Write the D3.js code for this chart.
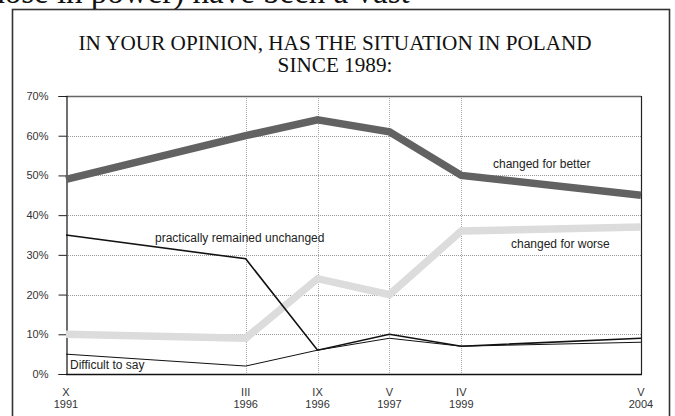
<!DOCTYPE html>
<html>
<head>
<meta charset="utf-8">
<script src="https://cdn.jsdelivr.net/npm/d3@7/dist/d3.min.js"></script>
<style>
  html, body { margin: 0; padding: 0; background: #fff; }
  svg { display: block; }
</style>
</head>
<body>
<svg id="chart" width="675" height="416"></svg>
<script>
// Survey waves (month in Roman numerals, year)
const months = ["X", "III", "IX", "V", "IV", "V"];
const years = ["1991", "1996", "1996", "1997", "1999", "2004"];
// Horizontal slot of each wave along the axis
const slots = [0, 2.5, 3.5, 4.5, 5.5, 8];

// Answers, in percent
const better = [49, 60, 64, 61, 50, 45];
const worse = [10, 9, 24, 20, 36, 37];
const unchanged = [35, 29, 6, 10, 7, 9];
const difficult = [5, 2, 6, 9, 7, 8];

const yTicks = [0, 10, 20, 30, 40, 50, 60, 70];

const svg = d3.select("#chart");
const plot = { left: 66, right: 641, top: 96, bottom: 374 };

const x = d3.scaleLinear().domain([0, 8]).range([plot.left, plot.right]);
const y = d3.scaleLinear().domain([0, 70]).range([plot.bottom, plot.top]);

// Text line running above the framed box (cut by the page edge)
svg.append("text")
  .attr("x", -21).attr("y", 3)
  .attr("font-family", "'Liberation Serif', 'Times New Roman', serif")
  .attr("font-size", 33).attr("fill", "#111")
  .text("those in power) have been a vast");

// Outer frame
svg.append("rect")
  .attr("x", 12.5).attr("y", 9.5)
  .attr("width", 657).attr("height", 420)
  .attr("fill", "#fff").attr("stroke", "#333").attr("stroke-width", 1.6);

// Title
const title = svg.append("text")
  .attr("text-anchor", "middle")
  .attr("font-family", "'Liberation Serif', 'Times New Roman', serif")
  .attr("font-size", 21.2).attr("fill", "#111");
title.append("tspan").attr("x", 335).attr("y", 50).text("IN YOUR OPINION, HAS THE SITUATION IN POLAND");
title.append("tspan").attr("x", 335).attr("y", 72).text("SINCE 1989:");

// Horizontal dotted gridlines
svg.append("g")
  .selectAll("line")
  .data(yTicks.filter(d => d > 0 && d < 70))
  .join("line")
  .attr("x1", plot.left).attr("x2", plot.right)
  .attr("y1", d => Math.round(y(d)) + 0.5).attr("y2", d => Math.round(y(d)) + 0.5)
  .attr("stroke", "#999").attr("stroke-width", 1).attr("stroke-dasharray", "1,1");

// Vertical dotted gridlines at the inner waves
svg.append("g")
  .selectAll("line")
  .data(slots.slice(1, -1))
  .join("line")
  .attr("x1", d => Math.round(x(d)) + 0.5).attr("x2", d => Math.round(x(d)) + 0.5)
  .attr("y1", plot.top).attr("y2", plot.bottom)
  .attr("stroke", "#aaa").attr("stroke-width", 1).attr("stroke-dasharray", "1,1");

// Top edge of the plot (70%)
svg.append("line")
  .attr("x1", plot.left).attr("x2", plot.right)
  .attr("y1", plot.top + 0.5).attr("y2", plot.top + 0.5)
  .attr("stroke", "#666").attr("stroke-width", 1.3);
// Right edge
svg.append("line")
  .attr("x1", plot.right + 0.5).attr("x2", plot.right + 0.5)
  .attr("y1", plot.top).attr("y2", plot.bottom)
  .attr("stroke", "#222").attr("stroke-width", 1.2);

// Y axis
const yAxis = d3.axisLeft(y)
  .tickValues(yTicks)
  .tickFormat(d => d + "%")
  .tickSize(8)
  .tickPadding(10);
const gy = svg.append("g")
  .attr("transform", `translate(${plot.left + 0.5},0)`)
  .call(yAxis);
gy.select(".domain").attr("stroke", "#111").attr("stroke-width", 1.2);
gy.selectAll(".tick line").attr("stroke", "#222");
gy.selectAll(".tick text")
  .attr("font-family", "Arial, 'Liberation Sans', sans-serif")
  .attr("font-size", 11).attr("fill", "#333");

// X axis line (0%)
svg.append("line")
  .attr("x1", plot.left).attr("x2", plot.right + 1)
  .attr("y1", plot.bottom + 0.5).attr("y2", plot.bottom + 0.5)
  .attr("stroke", "#111").attr("stroke-width", 1.3);

// X labels: month over year
const xl = svg.append("g")
  .selectAll("text")
  .data(slots)
  .join("text")
  .attr("text-anchor", "middle")
  .attr("font-family", "Arial, 'Liberation Sans', sans-serif")
  .attr("font-size", 11).attr("fill", "#333");
xl.append("tspan").attr("x", d => x(d)).attr("y", 396).text((d, i) => months[i]);
xl.append("tspan").attr("x", d => x(d)).attr("y", 408).text((d, i) => years[i]);

// Series lines
const line = d3.line()
  .x((d, i) => x(slots[i]))
  .y(d => y(d));

const series = [
  { values: worse, color: "#dcdcdc", width: 7.5 },
  { values: better, color: "#626262", width: 7.5 },
  { values: difficult, color: "#111", width: 1 },
  { values: unchanged, color: "#111", width: 1.6 }
];

svg.append("g")
  .selectAll("path")
  .data(series)
  .join("path")
  .attr("d", d => line(d.values))
  .attr("fill", "none")
  .attr("stroke", d => d.color)
  .attr("stroke-width", d => d.width)
  .attr("stroke-linejoin", "miter");

// Series labels
const labels = [
  { text: "changed for better", x: 493, y: 168 },
  { text: "changed for worse", x: 511, y: 248 },
  { text: "practically remained unchanged", x: 155, y: 242 },
  { text: "Difficult to say", x: 70, y: 369 }
];
svg.append("g")
  .selectAll("text")
  .data(labels)
  .join("text")
  .attr("x", d => d.x).attr("y", d => d.y)
  .attr("font-family", "Arial, 'Liberation Sans', sans-serif")
  .attr("font-size", 12).attr("fill", "#222")
  .text(d => d.text);
</script>
</body>
</html>
